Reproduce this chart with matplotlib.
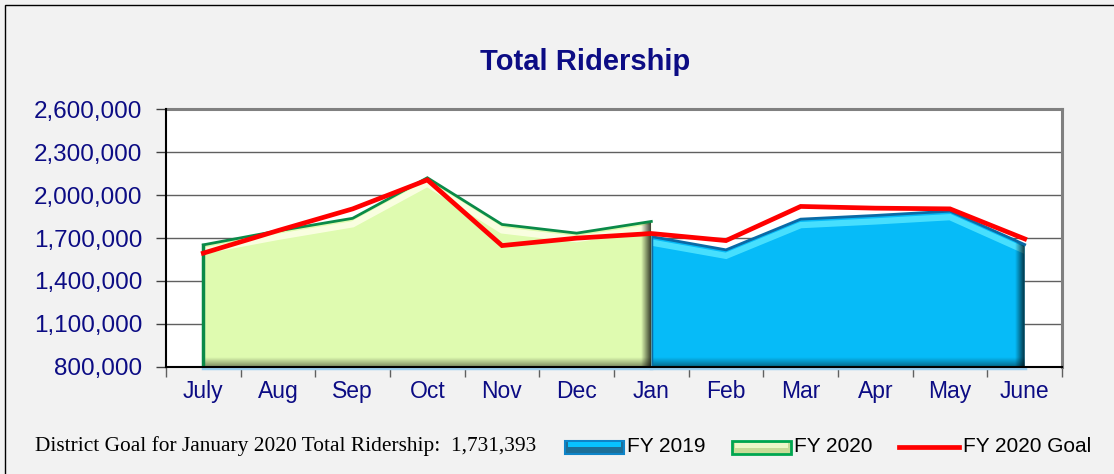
"""
Total Ridership area chart: FY 2019 vs FY 2020 with FY 2020 goal line.
"""
import numpy as np
import matplotlib
matplotlib.use("Agg")
import matplotlib.pyplot as plt
from matplotlib.patches import Polygon, Rectangle
from matplotlib.lines import Line2D
from matplotlib.transforms import offset_copy
from matplotlib.ticker import FuncFormatter, FixedLocator

MONTHS = ["July", "Aug", "Sep", "Oct", "Nov", "Dec",
          "Jan", "Feb", "Mar", "Apr", "May", "June"]
NA = np.nan
FY2019 = [NA, NA, NA, NA, NA, NA,
          1710000, 1617000, 1832000, 1858000, 1888000, 1654000]
FY2020 = [1652000, 1750000, 1838000, 2122000, 1795000, 1734000, 1816000,
          NA, NA, NA, NA, NA]
GOAL = [1594000, 1752000, 1904000, 2107000, 1647000, 1699000,
        1731393, 1682000, 1921000, 1909000, 1904000, 1694000]
NOTE = "District Goal for January 2020 Total Ridership:  1,731,393"

YMIN, YMAX = 800000, 2600000
NAVY = "#0c0c84"
SANS = ["Liberation Sans", "DejaVu Sans"]

W, H = 1114, 474
fig = plt.figure(figsize=(W / 100, H / 100), dpi=100, facecolor="#f2f2f2")
fig.patches.append(Rectangle((5 / W, -0.05), 1.1, 1.05 - 5 / H,
                             transform=fig.transFigure, fill=False,
                             edgecolor="black", lw=1))

ax = fig.add_axes([166 / W, 107.5 / H, 896 / W, 257 / H])
ax.set_facecolor("white")

DX = 12 / 896            # data units per pixel (x)
DY = (YMAX - YMIN) / 257  # data units per pixel (y)


def bevel_area(vals, fill, edge, light, z):
    v = np.asarray(vals, float)
    idx = np.where(~np.isnan(v))[0]
    x = idx.astype(float)
    y = v[idx]
    verts = [(x[0], YMIN)] + list(zip(x, y)) + [(x[-1], YMIN)]
    poly = Polygon(verts, closed=True, facecolor=fill, edgecolor="none", zorder=z)
    ax.add_patch(poly)
    # light band just under the top edge
    hl = ax.plot(x, y, color=light, lw=4.5, alpha=0.9, zorder=z + 0.1,
                 transform=offset_copy(ax.transData, fig, x=0, y=-6, units="dots"),
                 solid_joinstyle="miter")[0]
    hl.set_clip_path(poly)
    # dark shading near bottom and right edge
    n = 32
    bot = np.zeros((n, 1, 4)); bot[:, 0, 3] = np.linspace(0.4, 0.0, n)
    im = ax.imshow(bot, extent=(x[0], x[-1], YMIN, YMIN + 9 * DY), origin="lower",
                   aspect="auto", zorder=z + 0.2, interpolation="bilinear")
    im.set_clip_path(poly)
    rgt = np.zeros((1, n, 4)); rgt[0, :, 3] = np.linspace(0.0, 0.75, n)
    im = ax.imshow(rgt, extent=(x[-1] - 10 * DX, x[-1], YMIN, YMAX), origin="lower",
                   aspect="auto", zorder=z + 0.2, interpolation="bilinear")
    im.set_clip_path(poly)
    # outline: top edge and left side
    ax.plot(x, y, color=edge, lw=2, zorder=z + 0.3, solid_joinstyle="miter")
    ax.plot([x[0], x[0]], [YMIN, y[0]], color=edge, lw=2.5, zorder=z + 0.3)
    # thin light-blue shadow line under the area
    ax.plot([x[0], x[-1]], [YMIN, YMIN], color="#9ccff0", lw=2.5, zorder=1.5,
            transform=offset_copy(ax.transData, fig, x=0, y=-1.5, units="dots"),
            clip_on=False)


bevel_area(FY2019, "#06bbf8", "#0a6aa6", "#4fe4ff", 2)
bevel_area(FY2020, "#dffbb0", "#0a8a48", "#fcffe6", 3)
ax.plot(range(len(GOAL)), GOAL, color="#ff0000", lw=3.4, zorder=5,
        solid_joinstyle="miter")

ax.set_xlim(-0.5, 11.5)
ax.set_ylim(YMIN, YMAX)

yt = list(range(YMIN, YMAX + 1, 300000))
ax.set_yticks(yt)
ax.yaxis.set_major_formatter(FuncFormatter(lambda v, p: f"{int(v):,}"))
ax.grid(axis="y", color="#606060", lw=1)
ax.set_axisbelow(True)
ax.tick_params(axis="y", length=7, width=1, color="#404040", pad=10,
               labelsize=17.5, labelcolor=NAVY)

ax.xaxis.set_major_locator(FixedLocator(np.arange(-0.5, 12, 1)))
ax.xaxis.set_minor_locator(FixedLocator(np.arange(12)))
ax.set_xticklabels([], minor=False)
ax.set_xticklabels(MONTHS, minor=True)
ax.tick_params(axis="x", which="major", length=7, width=1, color="#606060")
ax.tick_params(axis="x", which="minor", length=0, pad=10,
               labelsize=16.5, labelcolor=NAVY)
for lab in ax.get_xticklabels(minor=True) + ax.get_yticklabels():
    lab.set_family(SANS)

for side in ("left", "bottom"):
    ax.spines[side].set_color("black"); ax.spines[side].set_linewidth(1.5)
for side in ("top", "right"):
    ax.spines[side].set_color("#808080"); ax.spines[side].set_linewidth(2.2)
ax.spines["left"].set_zorder(6)
ax.spines["bottom"].set_zorder(6)

fig.text(585 / W, 1 - 62 / H, "Total Ridership", ha="center", va="center",
         fontsize=21, fontweight="bold", color=NAVY, family=SANS)

# legend row
ly = 1 - 446.5 / H
fig.text(35 / W, ly, NOTE, ha="left", va="center", fontsize=15.4,
         family=["Liberation Serif", "DejaVu Serif"], color="black")


def fig_rect(x0, y0, w, h, **kw):
    fig.patches.append(Rectangle((x0 / W, 1 - (y0 + h) / H), w / W, h / H,
                                 transform=fig.transFigure, **kw))


fig_rect(565, 440.5, 59, 13, facecolor="#1d6f98", edgecolor="#0e84c8", lw=1.5)
fig_rect(568, 442, 53, 5, facecolor="#08c2ff", edgecolor="none")
fig_rect(732, 440.5, 59, 13, facecolor="#c8dc98", edgecolor="#00a650", lw=2)
fig_rect(735, 442.5, 53, 5, facecolor="#eef7c8", edgecolor="none")
fig.lines.append(Line2D([899 / W, 959 / W], [ly, ly], transform=fig.transFigure,
                        color="#ff0000", lw=3.4))
for xpos, txt in ((627, "FY 2019"), (794, "FY 2020"), (963, "FY 2020 Goal")):
    fig.text(xpos / W, ly, txt, ha="left", va="center", fontsize=15,
             family=SANS, color="black")

fig.savefig("out.png", dpi=100, facecolor=fig.get_facecolor())
